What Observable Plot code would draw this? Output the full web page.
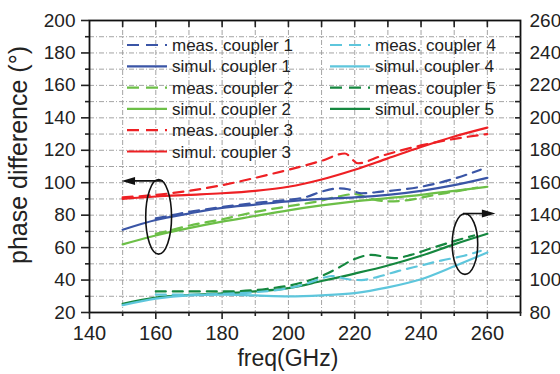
<!DOCTYPE html>
<html><head><meta charset="utf-8">
<script src="https://cdn.jsdelivr.net/npm/d3@7"></script>
<script src="https://cdn.jsdelivr.net/npm/@observablehq/plot@0.6"></script>
<style>
html,body{margin:0;padding:0;background:#fff;}
#chart svg{display:block;}
</style></head><body><div id="chart"></div>
<script>
// ---- data ----
const freqSim = [150,160,170,180,190,200,210,220,230,240,250,260];
// left axis (couplers 1-3), degrees
const sim1 = [71,77,81,84.5,86.5,88.5,90,91,92.5,95,98.5,103];
const sim2 = [62,67.5,72,76,79.5,83,86,88.5,90.5,92.5,95,97.5];
const sim3 = [90,91.5,92.5,93.5,95,97.5,102,108,115,122,128.5,134];
// right axis (couplers 4-5), degrees
const sim4 = [84.5,88.5,90.5,91,90.5,90,90.6,92,95.5,100.5,108.5,117];
const sim5 = [85.4,89.2,90.8,91.8,93,95,99.4,104,109,115,122,128.5];

const freqMeas1 = [160,165,170,180,190,200,205,210,215,218,222,228,235,240,250,258];
const meas1 = [78,80,82,85,87.5,89.5,91,94.5,96.5,96,93.5,94.5,96,97.5,102.5,108];
const freqMeas2 = [160,165,170,180,190,200,210,215,220,225,230,235,243,250,257];
const meas2 = [68.5,71,73.5,77.5,82,85.5,89,91.5,93,90,88.5,89,92,94.5,97];
const freqMeas3 = [150,160,170,180,190,200,210,217,221,228,240,250,260];
const meas3 = [91,92.5,95,98.5,103,108,113.5,118,112,116.5,123,127,130];
const freqMeas4 = [160,170,180,190,200,205,210,213,218,222,227,233,240,246,253,258];
const meas4 = [91,91,91.5,92.5,95,97.5,101,102.5,100.5,100,102,105.5,109,112,115,118];
const freqMeas5 = [160,170,180,190,195,200,205,210,215,220,225,232,237,243,250,256];
const meas5 = [93,93,93,93.8,95,96.5,99,102.5,107.5,113,115.5,113.5,115.5,119.5,124,127.5];

const leftTicks = [20,40,60,80,100,120,140,160,180,200];
const rightTicks = [80,100,120,140,160,180,200,220,240,260];
const xTicks = [140,160,180,200,220,240,260];
const rightOffset = 60; // right-axis value minus left-axis value at the same height

const colors = {c1:"#3a55a6", c2:"#6cbf47", c3:"#ee2024", c4:"#5ec6dc", c5:"#15873f"};

// ---- build series ----
const series = [
  {key:"meas. coupler 5", f:freqMeas5, v:meas5, shift:rightOffset, color:colors.c5, dash:true},
  {key:"simul. coupler 5", f:freqSim, v:sim5, shift:rightOffset, color:colors.c5, dash:false},
  {key:"meas. coupler 4", f:freqMeas4, v:meas4, shift:rightOffset, color:colors.c4, dash:true},
  {key:"simul. coupler 4", f:freqSim, v:sim4, shift:rightOffset, color:colors.c4, dash:false},
  {key:"meas. coupler 2", f:freqMeas2, v:meas2, shift:0, color:colors.c2, dash:true},
  {key:"simul. coupler 2", f:freqSim, v:sim2, shift:0, color:colors.c2, dash:false},
  {key:"meas. coupler 1", f:freqMeas1, v:meas1, shift:0, color:colors.c1, dash:true},
  {key:"simul. coupler 1", f:freqSim, v:sim1, shift:0, color:colors.c1, dash:false},
  {key:"meas. coupler 3", f:freqMeas3, v:meas3, shift:0, color:colors.c3, dash:true},
  {key:"simul. coupler 3", f:freqSim, v:sim3, shift:0, color:colors.c3, dash:false}
];
const dashPattern = "10,7";

const lineMarks = series.map(s => Plot.line(
  s.f.map((f,i) => ({f, v: s.v[i] - s.shift})),
  {x:"f", y:"v", stroke:s.color, strokeWidth:2.2, curve:"monotone-x",
   strokeDasharray: s.dash ? dashPattern : null}
));

const gridStyle = {stroke:"#9a9a9a", strokeWidth:0.9, strokeDasharray:"5,2,1,2"};

const plot = Plot.plot({
  width:560, height:374,
  marginLeft:89, marginRight:40, marginTop:20, marginBottom:62,
  style:{fontFamily:"'Liberation Sans', Arial, sans-serif", fontSize:"19px", color:"#222", background:"#fff"},
  x:{domain:[140,270], axis:null},
  y:{domain:[20,200], axis:null},
  marks:[
    Plot.ruleX(d3.range(150,270,10), gridStyle),
    Plot.ruleY(d3.range(30,200,10), gridStyle),
    ...lineMarks,
    Plot.frame({stroke:"#111", strokeWidth:1.8}),
    // left axis
    Plot.axisY({anchor:"left", ticks:leftTicks, tickSize:8, tickFormat:()=>"", label:null, strokeWidth:1.6}),
    Plot.axisY({anchor:"left", ticks:d3.range(30,200,20), tickSize:4, tickFormat:()=>"", label:null, strokeWidth:1.6}),
    Plot.axisY({anchor:"left", ticks:leftTicks, tickSize:0, tickPadding:14, label:null, fontSize:19}),
    // right axis
    Plot.axisY({anchor:"right", ticks:d3.range(30,200,10), tickSize:-6, tickFormat:()=>"", label:null, strokeWidth:1.6}),
    Plot.axisY({anchor:"right", ticks:rightTicks.map(t=>t-rightOffset), tickSize:0, tickPadding:9, label:null, fontSize:19,
                tickFormat:d=>String(d+rightOffset)}),
    // bottom axis
    Plot.axisX({anchor:"bottom", ticks:xTicks, tickSize:7, tickFormat:()=>"", label:null, strokeWidth:1.6}),
    Plot.axisX({anchor:"bottom", ticks:d3.range(150,271,20), tickSize:4, tickFormat:()=>"", label:null, strokeWidth:1.6}),
    Plot.axisX({anchor:"bottom", ticks:xTicks, tickSize:0, tickPadding:13, label:null, fontSize:20}),
    // top axis (inward ticks)
    Plot.axisX({anchor:"top", ticks:d3.range(150,261,10), tickSize:-6, tickFormat:()=>"", label:null, strokeWidth:1.6})
  ]
});
document.getElementById("chart").appendChild(plot);

// ---- annotations drawn with the plot's scales ----
const sx = plot.scale("x"), sy = plot.scale("y");
const X = v => sx.apply(v), Y = v => sy.apply(v);
const svg = d3.select(plot);
const ann = svg.append("g").attr("fill","none").attr("stroke","#111").attr("stroke-width",1.6);

// left group ellipse + arrow pointing to left axis
ann.append("ellipse").attr("cx",X(161)).attr("cy",Y(78.7)).attr("rx",X(164.9)-X(161)).attr("ry",Y(55.7)-Y(78.7));
ann.append("line").attr("x1",X(162.3)).attr("x2",X(152)).attr("y1",Y(100.8)).attr("y2",Y(100.8));
svg.append("path").attr("fill","#111")
  .attr("d",`M${X(149.8)},${Y(100.8)}L${X(153.9)},${Y(100.8)-4}L${X(153.9)},${Y(100.8)+4}Z`);
// right group ellipse + arrow pointing to right axis
ann.append("ellipse").attr("cx",X(253.4)).attr("cy",Y(61.9)).attr("rx",X(257.25)-X(253.4)).attr("ry",Y(43.2)-Y(61.9));
ann.append("line").attr("x1",X(252.8)).attr("x2",X(259)).attr("y1",Y(80.7)).attr("y2",Y(80.7));
svg.append("path").attr("fill","#111")
  .attr("d",`M${X(262.6)},${Y(80.7)}L${X(258.5)},${Y(80.7)-4}L${X(258.5)},${Y(80.7)+4}Z`);

// legend
const legendOrder = [
  ["meas. coupler 1",colors.c1,true],["simul. coupler 1",colors.c1,false],
  ["meas. coupler 2",colors.c2,true],["simul. coupler 2",colors.c2,false],
  ["meas. coupler 3",colors.c3,true],["simul. coupler 3",colors.c3,false],
  ["meas. coupler 4",colors.c4,true],["simul. coupler 4",colors.c4,false],
  ["meas. coupler 5",colors.c5,true],["simul. coupler 5",colors.c5,false]
];
const lg = svg.append("g").attr("font-family","'Liberation Sans', Arial, sans-serif")
  .attr("font-size",17).attr("fill","#222").attr("text-anchor","start");
legendOrder.forEach(([label,color,dash],i) => {
  const col = i < 6 ? 0 : 1, row = i < 6 ? i : i - 6;
  const x0 = col ? 330 : 127, cy = 45 + row*21.3;
  lg.append("line").attr("x1",x0).attr("x2",x0+40).attr("y1",cy).attr("y2",cy)
    .attr("stroke",color).attr("stroke-width",2.2).attr("stroke-dasharray",dash?"12,7":null);
  lg.append("text").attr("x",x0+45).attr("y",cy+6).attr("text-anchor","start").text(label);
});

// axis titles
svg.append("text").attr("transform","translate(27,155) rotate(-90)").attr("text-anchor","middle")
  .attr("font-size",25).attr("fill","#222").text("phase difference (°)");
svg.append("text").attr("x",X(200)).attr("y",366).attr("text-anchor","middle")
  .attr("font-size",23).attr("fill","#222").text("freq(GHz)");
</script>
</body></html>
